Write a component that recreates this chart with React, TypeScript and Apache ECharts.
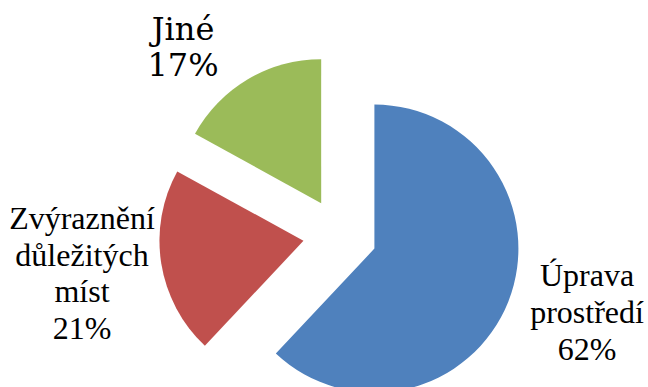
import React, { useEffect, useRef } from "react";
import * as echarts from "echarts";

const categories = ["Úprava prostředí", "Zvýraznění důležitých míst", "Jiné"];
const values = [62, 21, 17];
const colors = ["#4F81BD", "#C0504D", "#9BBB59"];
const labelAnchors = [
  [587, 312],
  [82, 273],
  [183, 47],
];
const labelFonts = ["serif", "Times New Roman", "DejaVu Serif"];
const LINE = 36.6;
const FONT_SIZE = 32;

export default function App() {
  const ref = useRef<HTMLDivElement>(null);
  useEffect(() => {
    if (!ref.current) return;
    const chart = echarts.init(ref.current, undefined, { renderer: "svg" });
    const total = values.reduce((s, v) => s + v, 0);
    const texts: any[] = [];
    categories.forEach((name, i) => {
      const lines = [...name.split(" "), `${Math.round((values[i] / total) * 100)}%`];
      const n = lines.length;
      lines.forEach((ln, k) => {
        texts.push({
          type: "text",
          x: labelAnchors[i][0],
          y: labelAnchors[i][1] + (k - (n - 1) / 2) * LINE,
          style: {
            text: ln,
            fill: "#000000",
            fontFamily: labelFonts[i],
            fontSize: FONT_SIZE,
            align: "center",
            verticalAlign: "middle",
          },
        });
      });
    });
    chart.setOption({
      animation: false,
      backgroundColor: "#ffffff",
      series: [
        {
          type: "pie",
          center: [340, 235],
          radius: [0, 144],
          startAngle: 90,
          clockwise: true,
          selectedMode: "multiple",
          selectedOffset: 37,
          silent: true,
          emphasis: { disabled: true },
          label: { show: false },
          labelLine: { show: false },
          data: categories.map((name, i) => ({
            name,
            value: values[i],
            selected: true,
            itemStyle: { color: colors[i] },
          })),
        },
      ],
      graphic: texts,
    });
    return () => chart.dispose();
  }, []);
  return (
    <div
      ref={ref}
      style={{ position: "absolute", left: 0, top: 0, width: 648, height: 387 }}
    />
  );
}
